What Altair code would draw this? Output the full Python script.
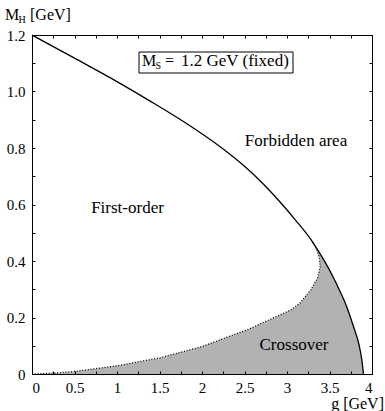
import altair as alt
import pandas as pd

# Upper boundary (solid curve): g [GeV] vs M_H [GeV]
solid_g = [0.0, 0.5, 1.0, 1.39, 1.8, 2.21, 2.5, 2.68, 2.9, 3.1, 3.3, 3.45, 3.54, 3.62, 3.7, 3.78, 3.85, 3.88, 3.9]
solid_m = [1.2, 1.118, 1.035, 0.966, 0.89, 0.805, 0.735, 0.685, 0.615, 0.545, 0.468, 0.395, 0.345, 0.295, 0.24, 0.17, 0.1, 0.05, 0.0]

# Crossover boundary (dotted curve)
dot_g = [0.0, 0.25, 0.5, 1.0, 1.5, 2.0, 2.56, 3.04, 3.15, 3.28, 3.36, 3.39, 3.38, 3.35, 3.30]
dot_m = [0.0, 0.003, 0.009, 0.029, 0.057, 0.097, 0.16, 0.226, 0.25, 0.298, 0.34, 0.38, 0.41, 0.44, 0.468]

x_labels = [0, 0.5, 1, 1.5, 2, 2.5, 3, 3.5, 4]
y_labels = [0, 0.2, 0.4, 0.6, 0.8, 1.0, 1.2]
x_minor = [0, 0.25, 0.5, 0.75, 1, 1.25, 1.5, 1.75, 2, 2.25, 2.5, 2.75, 3, 3.25, 3.5, 3.75, 4]
y_minor = [0, 0.1, 0.2, 0.3, 0.4, 0.5, 0.6, 0.7, 0.8, 0.9, 1.0, 1.1, 1.2]

solid = pd.DataFrame({"g": solid_g, "M": solid_m, "i": list(range(len(solid_g)))})
dotted = pd.DataFrame({"g": dot_g, "M": dot_m, "i": list(range(len(dot_g)))})

# Closed outline of the crossover region: dotted curve up to the meeting point,
# then the solid curve down to the g axis.
M_CROSS = dot_m[-1]
lower_solid = solid[solid["M"] < M_CROSS]
region = pd.concat([dotted[["g", "M"]], lower_solid[["g", "M"]]], ignore_index=True)
region["i"] = list(range(len(region)))

FONT = "Liberation Serif"
XS = alt.Scale(domain=[0, 4], nice=False, zero=False)
YS = alt.Scale(domain=[0, 1.2], nice=False, zero=False)

common = dict(title=None, grid=False, labelFont=FONT, labelFontSize=15, labelColor="black",
              tickColor="black", domainColor="black", zindex=1)

ax_lab = alt.Axis(orient="bottom", values=x_labels, labelExpr="toString(datum.value)",
                  ticks=False, domain=True, labelPadding=6, **common)
ay_lab = alt.Axis(orient="left", values=y_labels,
                  labelExpr="datum.value == 0 ? '0' : format(datum.value, '.1f')",
                  ticks=False, domain=True, labelPadding=7, **common)
ax_b = alt.Axis(orient="bottom", values=x_minor, labels=False, domain=False, ticks=True,
                tickSize=3, offset=-3, **common)
ay_l = alt.Axis(orient="left", values=y_minor, labels=False, domain=False, ticks=True,
                tickSize=3, offset=-3, **common)
ax_t = alt.Axis(orient="top", values=x_minor, labels=False, domain=False, ticks=True,
                tickSize=3, offset=-3, **common)
ay_r = alt.Axis(orient="right", values=y_minor, labels=False, domain=False, ticks=True,
                tickSize=3, offset=-3, **common)

gray = alt.Chart(region).mark_line(fill="#b2b2b2", stroke=None, strokeWidth=0).encode(
    x=alt.X("g:Q", scale=XS, axis=ax_lab),
    y=alt.Y("M:Q", scale=YS, axis=ay_lab),
    order="i:Q")

dots = alt.Chart(dotted).mark_line(color="black", strokeWidth=1.3, strokeDash=[1, 1.8]).encode(
    x=alt.X("g:Q", scale=XS, axis=ax_b),
    y=alt.Y("M:Q", scale=YS, axis=ay_l),
    order="i:Q")

line = alt.Chart(solid).mark_line(color="black", strokeWidth=1.3, interpolate="monotone").encode(
    x=alt.X("g:Q", scale=XS, axis=ax_t),
    y=alt.Y("M:Q", scale=YS, axis=ay_r),
    order="i:Q")

box = alt.Chart(pd.DataFrame({"a": [0]})).mark_rect(fill="white", stroke="black", strokeWidth=1).encode(
    x=alt.value(107), x2=alt.value(261), y=alt.value(17), y2=alt.value(38))


def label(text, x, y, size=17, align="left"):
    return alt.Chart(pd.DataFrame({"t": [text]})).mark_text(
        align=align, baseline="alphabetic", font=FONT, fontSize=size, color="black").encode(
        x=alt.value(x), y=alt.value(y), text="t:N")


texts = [
    label("M", -27, -15, size=16),
    label("H", -13.5, -12, size=10),
    label("[GeV]", -2, -15, size=16),
    label("g [GeV]", 352, 373.5, size=16, align="right"),
    label("M", 110, 31, size=16),
    label("S", 123.5, 34, size=10),
    label("=", 133, 31, size=16),
    label("1.2 GeV (fixed)", 149, 31),
    label("Forbidden area", 264, 111, align="center"),
    label("First-order", 95.5, 178, align="center"),
    label("Crossover", 262, 315, align="center"),
]

chart = alt.layer(gray, dots, line, box, *texts).resolve_axis(
    x="independent", y="independent").properties(
    width=340, height=339,
    autosize=alt.AutoSizeParams(type="none"),
    padding={"left": 32, "top": 35, "right": 13, "bottom": 37},
    background="white",
).configure_view(stroke="black", strokeWidth=1)

chart.save("out.html", embed_options={"renderer": "svg", "actions": False})
